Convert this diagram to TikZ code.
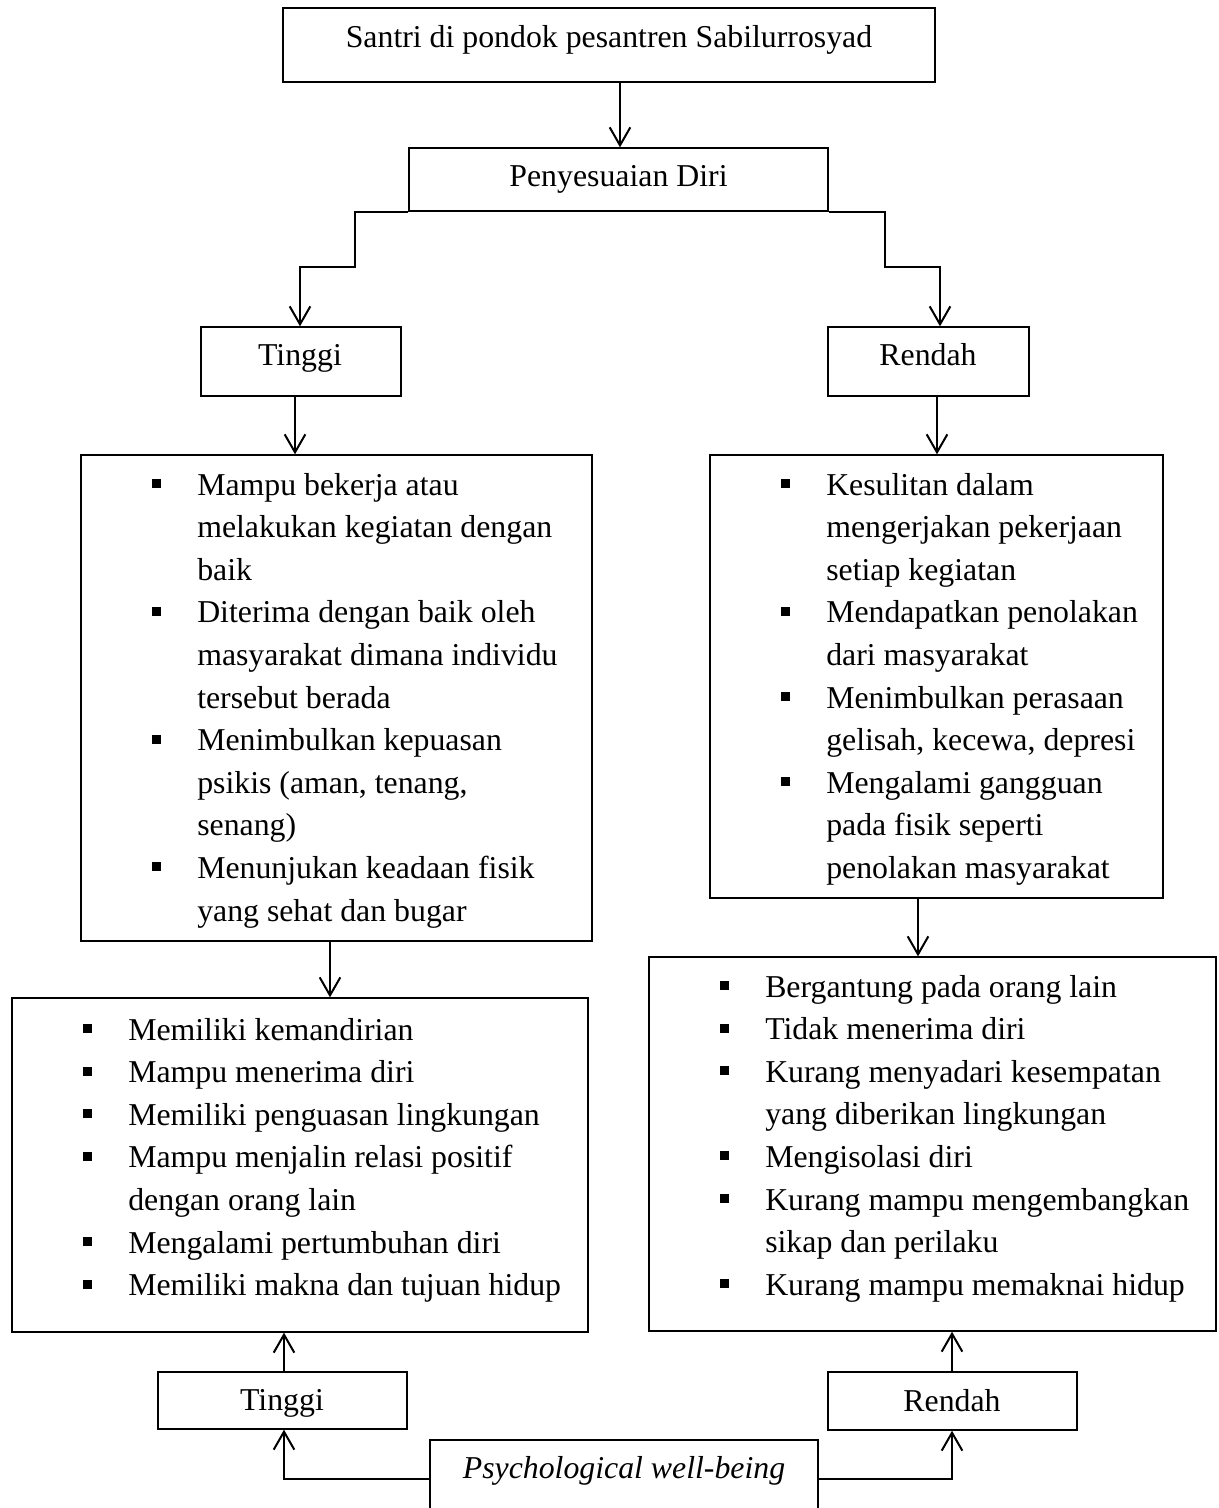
\documentclass[tikz,border=0pt]{standalone}
\usepackage{fontspec}
\setmainfont{Liberation Serif}
\usetikzlibrary{arrows.meta,fit}
\newcommand\sqb{\makebox[33.75pt][l]{\raisebox{5.25pt}{\rule{6.75pt}{6.75pt}}}}
\newcommand\nob{\makebox[33.75pt][l]{}}
\begin{document}
\begin{tikzpicture}[x=0.75pt, y=-0.75pt,
  font=\fontsize{23.85}{31.95}\selectfont,
  box/.style={draw, line width=1pt, inner sep=0pt},
  txt/.style={anchor=base, inner sep=0pt},
  lst/.style={anchor=base west, inner sep=0pt, align=left},
  arr/.style={line width=1.5pt, -{Straight Barb[length=13.5pt,width=15.5pt,line width=1.5pt]}}]
\clip (0,0) rectangle (1218,1508);
\fill[white] (0,0) rectangle (1218,1508);

% helper x positions
\coordinate (x620) at (620,0);
\coordinate (x300) at (300,0);
\coordinate (x940) at (940,0);
\coordinate (x295) at (295,0);
\coordinate (x937) at (937,0);
\coordinate (x330) at (330,0);
\coordinate (x918) at (918,0);
\coordinate (x284) at (284,0);
\coordinate (x952) at (952,0);
\coordinate (bl) at (355,267);
\coordinate (br) at (885,267);

% boxes
\node[box, fit={(283,8) (935,82)}] (top) {};
\node[box, fit={(409,148) (828,211)}] (pd) {};
\node[box, fit={(201,327) (401,396)}] (t1) {};
\node[box, fit={(828,327) (1029,396)}] (r1) {};
\node[box, fit={(81,455) (592,941)}] (A) {};
\node[box, fit={(710,455) (1163,898)}] (B) {};
\node[box, fit={(12,998) (588,1332)}] (C) {};
\node[box, fit={(649,957) (1216,1331)}] (D) {};
\node[box, fit={(158,1372) (407,1429)}] (t2) {};
\node[box, fit={(828,1372) (1077,1430)}] (r2) {};
\node[box, fit={(430,1440) (818,1518)}] (pw) {};

% single-line texts
\node[txt] (topt) at (609,48) {Santri di pondok pesantren Sabilurrosyad};
\node[txt] (pdt) at (618.5,187) {Penyesuaian Diri};
\node[txt] (t1t) at (300,366) {Tinggi};
\node[txt] (r1t) at (928,366) {Rendah};
\node[txt] (t2t) at (282,1410) {Tinggi};
\node[txt] (r2t) at (952,1411) {Rendah};
\node[txt, font=\fontsize{23.85}{31.95}\selectfont\itshape] (pwt) at (624,1478) {Psychological well-being};

% lists
\node[lst] (At) at (152,495) {\begin{tabular}[t]{@{}l@{}l@{}}
\sqb & Mampu bekerja atau\\
\nob & melakukan kegiatan dengan\\
\nob & baik\\
\sqb & Diterima dengan baik oleh\\
\nob & masyarakat dimana individu\\
\nob & tersebut berada\\
\sqb & Menimbulkan kepuasan\\
\nob & psikis (aman, tenang,\\
\nob & senang)\\
\sqb & Menunjukan keadaan fisik\\
\nob & yang sehat dan bugar
\end{tabular}};

\node[lst] (Bt) at (781,495) {\begin{tabular}[t]{@{}l@{}l@{}}
\sqb & Kesulitan dalam\\
\nob & mengerjakan pekerjaan\\
\nob & setiap kegiatan\\
\sqb & Mendapatkan penolakan\\
\nob & dari masyarakat\\
\sqb & Menimbulkan perasaan\\
\nob & gelisah, kecewa, depresi\\
\sqb & Mengalami gangguan\\
\nob & pada fisik seperti\\
\nob & penolakan masyarakat
\end{tabular}};

\node[lst] (Ct) at (83,1040) {\begin{tabular}[t]{@{}l@{}l@{}}
\sqb & Memiliki kemandirian\\
\sqb & Mampu menerima diri\\
\sqb & Memiliki penguasan lingkungan\\
\sqb & Mampu menjalin relasi positif\\
\nob & dengan orang lain\\
\sqb & Mengalami pertumbuhan diri\\
\sqb & Memiliki makna dan tujuan hidup
\end{tabular}};

\node[lst] (Dt) at (720,997) {\begin{tabular}[t]{@{}l@{}l@{}}
\sqb & Bergantung pada orang lain\\
\sqb & Tidak menerima diri\\
\sqb & Kurang menyadari kesempatan\\
\nob & yang diberikan lingkungan\\
\sqb & Mengisolasi diri\\
\sqb & Kurang mampu mengembangkan\\
\nob & sikap dan perilaku\\
\sqb & Kurang mampu memaknai hidup
\end{tabular}};

% connectors
\draw[arr] (top.south -| x620) -- (pd.north -| x620);
\draw[arr] (pd.south west) -| (bl) -| (t1.north -| x300);
\draw[arr] (pd.south east) -| (br) -| (r1.north -| x940);
\draw[arr] (t1.south -| x295) -- (A.north -| x295);
\draw[arr] (r1.south -| x937) -- (B.north -| x937);
\draw[arr] (A.south -| x330) -- (C.north -| x330);
\draw[arr] (B.south -| x918) -- (D.north -| x918);
\draw[arr] (t2.north -| x284) -- (C.south -| x284);
\draw[arr] (r2.north -| x952) -- (D.south -| x952);
\draw[arr] (pw.west) -| (t2.south -| x284);
\draw[arr] (pw.east) -| (r2.south -| x952);
\end{tikzpicture}
\end{document}
